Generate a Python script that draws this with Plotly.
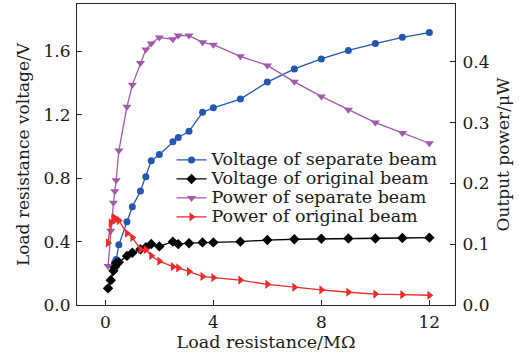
import plotly.graph_objects as go

resistance = [0.1, 0.2, 0.3, 0.35, 0.4, 0.5, 0.8, 1.0, 1.3, 1.5, 1.7, 2.0, 2.5, 2.7, 3.1, 3.6, 4.0, 5.0, 6.0, 7.0, 8.0, 9.0, 10.0, 11.0, 12.0]
voltage_separate = [0.105, 0.157, 0.237, 0.27, 0.287, 0.38, 0.525, 0.62, 0.72, 0.81, 0.91, 0.95, 1.03, 1.057, 1.096, 1.216, 1.245, 1.30, 1.407, 1.49, 1.553, 1.607, 1.65, 1.69, 1.72]
voltage_original = [0.105, 0.157, 0.216, 0.24, 0.264, 0.27, 0.31, 0.33, 0.352, 0.365, 0.385, 0.37, 0.40, 0.384, 0.39, 0.395, 0.395, 0.40, 0.41, 0.415, 0.418, 0.42, 0.42, 0.423, 0.425]
power_separate = [0.064, 0.122, 0.168, 0.187, 0.205, 0.254, 0.326, 0.362, 0.398, 0.42, 0.43, 0.44, 0.437, 0.443, 0.443, 0.432, 0.428, 0.409, 0.394, 0.367, 0.343, 0.321, 0.30, 0.283, 0.266]
power_original = [0.102, 0.135, 0.143, 0.143, 0.141, 0.139, 0.118, 0.111, 0.091, 0.091, 0.081, 0.072, 0.063, 0.061, 0.055, 0.047, 0.045, 0.041, 0.034, 0.029, 0.025, 0.021, 0.018, 0.017, 0.016]

series_names = ["Voltage of separate beam", "Voltage of original beam",
                "Power of separate beam", "Power of original beam"]

left_ticks = [0, 0.4, 0.8, 1.2, 1.6]
right_ticks = [0, 0.1, 0.2, 0.3, 0.4]
x_ticks = [0, 4, 8, 12]

FONT = "DejaVu Serif"
TXT = "#1a1a1a"


def legend_label(s):
    return f"<span style='font-size:17.5px'>{s}</span>"


fig = go.Figure()
fig.add_trace(go.Scatter(x=resistance, y=voltage_separate, name=legend_label(series_names[0]),
                         mode="lines+markers", line=dict(color="#2457b0", width=1.3),
                         marker=dict(symbol="circle", size=7, color="#2457b0")))
fig.add_trace(go.Scatter(x=resistance, y=voltage_original, name=legend_label(series_names[1]),
                         mode="lines+markers", line=dict(color="#000000", width=1.3),
                         marker=dict(symbol="diamond", size=8, color="#000000")))
fig.add_trace(go.Scatter(x=resistance, y=power_separate, name=legend_label(series_names[2]), yaxis="y2",
                         mode="lines+markers", line=dict(color="#a35aaa", width=1.3),
                         marker=dict(symbol="triangle-down", size=8, color="#a35aaa")))
fig.add_trace(go.Scatter(x=resistance, y=power_original, name=legend_label(series_names[3]), yaxis="y2",
                         mode="lines+markers", line=dict(color="#ee2a2a", width=1.3),
                         marker=dict(symbol="triangle-right", size=8, color="#ee2a2a")))

axis_common = dict(showgrid=False, zeroline=False, showline=True, linecolor="#222", linewidth=1.2,
                   ticks="inside", ticklen=5, tickwidth=1.2, tickcolor="#222",
                   tickfont=dict(family=FONT, size=17, color=TXT))
title_font = dict(family=FONT, size=17, color=TXT)

fig.update_layout(
    width=519, height=358,
    margin=dict(l=77, r=64, t=4, b=53),
    paper_bgcolor="white", plot_bgcolor="white",
    font=dict(family=FONT, color=TXT),
    showlegend=True,
    legend=dict(x=0.25, y=0.53, xanchor="left", yanchor="top", bgcolor="rgba(0,0,0,0)",
                font=dict(family=FONT, size=12, color=TXT), tracegroupgap=0,
                itemwidth=30),
    xaxis=dict(range=[-1.05, 12.95], tickvals=x_ticks, ticktext=[str(v) for v in x_ticks],
               mirror=True, ticklabelstandoff=1,
               title=dict(text="Load resistance/MΩ", font=dict(family=FONT, size=17.5, color=TXT), standoff=4),
               **axis_common),
    yaxis=dict(range=[0, 1.9], tickvals=left_ticks, ticktext=[f"{v:.1f}" for v in left_ticks],
               ticklabelstandoff=2,
               title=dict(text="Load resistance voltage/V", font=title_font, standoff=9),
               **axis_common),
    yaxis2=dict(range=[0, 0.495], tickvals=right_ticks, ticktext=[f"{v:.1f}" for v in right_ticks],
                overlaying="y", side="right", ticklabelstandoff=3,
                title=dict(text="Output power/μW", font=title_font, standoff=8),
                **axis_common),
)

fig.write_html("out.html")
